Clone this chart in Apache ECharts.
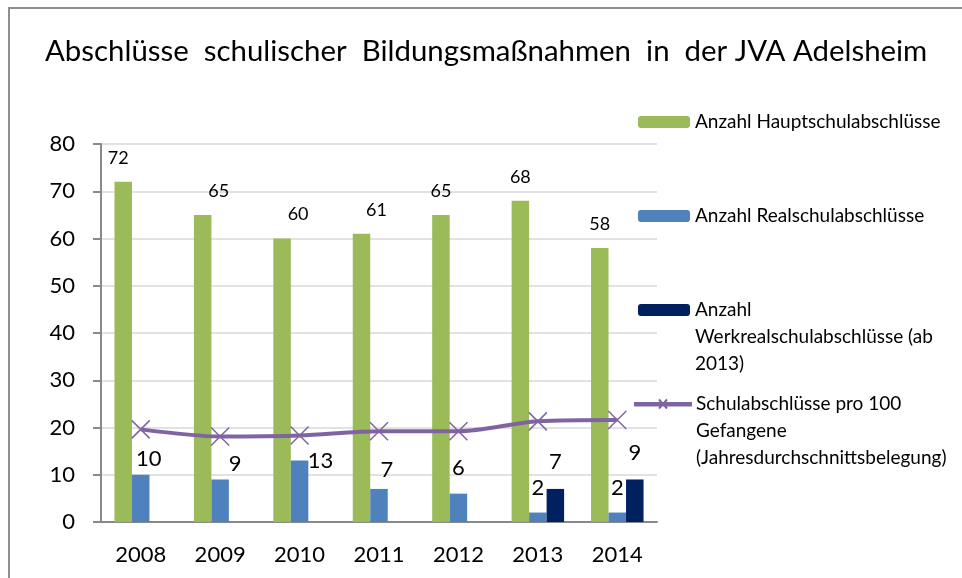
<!DOCTYPE html>
<html>
<head>
<meta charset="utf-8">
<script src="https://cdn.jsdelivr.net/npm/echarts@6/dist/echarts.min.js"></script>
<style>
  html, body { margin: 0; padding: 0; background: #fff; }
  #chart { width: 962px; height: 578px; }
</style>
</head>
<body>
<div id="chart"></div>
<script>
// Data
const years = ['2008', '2009', '2010', '2011', '2012', '2013', '2014'];
const hauptschule = [72, 65, 60, 61, 65, 68, 58];
const realschule = [10, 9, 13, 7, 6, 2, 2];
const werkrealschule = [null, null, null, null, null, 7, 9];
const proHundert = [19.6, 18.1, 18.3, 19.2, 19.2, 21.3, 21.6];

const seriesNames = [
  'Anzahl Hauptschulabschlüsse',
  'Anzahl Realschulabschlüsse',
  'Anzahl Werkrealschulabschlüsse (ab 2013)',
  'Schulabschlüsse pro 100 Gefangene (Jahresdurchschnittsbelegung)'
];
// legend text lines (wrapped as in the original)
const legendLines = {
  [seriesNames[0]]: ['Anzahl Hauptschulabschlüsse'],
  [seriesNames[1]]: ['Anzahl Realschulabschlüsse'],
  [seriesNames[2]]: ['Anzahl', 'Werkrealschulabschlüsse (ab', '2013)'],
  [seriesNames[3]]: ['Schulabschlüsse pro 100', 'Gefangene', '(Jahresdurchschnittsbelegung)']
};

// label nudges (as placed by hand in the original)
const hauptShift = [-5, 16, 16, 15, 0, 0, 0];
const realShift = [[8, 0], [15, 0], [21, 16], [8, -3], [0, -10], [0, -9], [0, -9]];

const FONT = 'Lato';
const chart = echarts.init(document.getElementById('chart'));

const lineH = 27;
// legend text is centred on its icon, so pad with blank lines on top
// to keep the first line level with the icon
function legendFor(name, iconY, left, w, h, icon) {
  const lines = legendLines[name];
  const pad = new Array(lines.length - 1).fill('');
  const lg = {
    data: [name],
    orient: 'vertical',
    left: left,
    top: iconY - (2 * lines.length - 1) * lineH / 2,
    padding: 0,
    itemWidth: w,
    itemHeight: h,
    selectedMode: false,
    formatter: n => pad.concat(legendLines[n]).join('\n'),
    textStyle: { fontFamily: FONT, fontSize: 19, color: '#000', lineHeight: lineH }
  };
  if (icon) lg.icon = icon;
  return lg;
}

// thick line with a small cross, like the series line and marker
const lineLegendIcon = 'path://M0,6h56v2.5h-56z M24,2.5L32,11.5M32,2.5L24,11.5';

const option = {
  animation: false,
  backgroundColor: '#fff',
  graphic: [{
    type: 'rect',
    shape: { x: 9, y: 8, width: 1000, height: 620 },
    style: { fill: 'none', stroke: '#8e8e8e', lineWidth: 2 },
    silent: true
  }],
  title: {
    text: 'Abschlüsse  schulischer  Bildungsmaßnahmen  in  der JVA Adelsheim',
    left: 40,
    top: 32,
    textStyle: { fontFamily: FONT, fontSize: 29.4, fontWeight: 'normal', color: '#000' }
  },
  legend: [
    legendFor(seriesNames[0], 122, 638, 52, 12),
    legendFor(seriesNames[1], 216, 638, 52, 12),
    legendFor(seriesNames[2], 310, 638, 52, 12),
    legendFor(seriesNames[3], 404, 634, 56, 14, lineLegendIcon)
  ],
  grid: { left: 101, right: 305, top: 144, bottom: 56 },
  xAxis: {
    type: 'category',
    data: years,
    axisLine: { lineStyle: { color: '#898989', width: 2 } },
    axisTick: { length: 8, lineStyle: { color: '#898989', width: 2 } },
    axisLabel: { fontFamily: FONT, fontSize: 22, color: '#000', margin: 22 }
  },
  yAxis: {
    type: 'value',
    min: 0,
    max: 80,
    interval: 10,
    axisLine: { show: true, lineStyle: { color: '#898989', width: 2 } },
    axisTick: { show: true, length: 8, lineStyle: { color: '#898989', width: 2 } },
    axisLabel: { fontFamily: FONT, fontSize: 22, color: '#000', margin: 26 },
    splitLine: { lineStyle: { color: '#d9d9d9', width: 1.5 } }
  },
  series: [
    {
      name: seriesNames[0],
      type: 'bar',
      barWidth: 17.5,
      barGap: '0%',
      itemStyle: { color: '#9bbb59' },
      data: hauptschule.map((v, i) => ({
        value: v,
        label: { offset: [hauptShift[i], 0] }
      })),
      label: {
        show: true, position: 'top', distance: 15,
        fontFamily: FONT, fontSize: 18, color: '#000'
      }
    },
    {
      name: seriesNames[1],
      type: 'bar',
      barWidth: 17.5,
      barGap: '0%',
      itemStyle: { color: '#4f81bd' },
      data: realschule.map((v, i) => ({
        value: v,
        label: { offset: realShift[i] }
      })),
      label: {
        show: true, position: 'top', distance: 5,
        fontFamily: FONT, fontSize: 22, color: '#000'
      }
    },
    {
      name: seriesNames[2],
      type: 'bar',
      barWidth: 17.5,
      barGap: '0%',
      itemStyle: { color: '#002060' },
      data: werkrealschule,
      label: {
        show: true, position: 'top', distance: 16,
        fontFamily: FONT, fontSize: 22, color: '#000'
      }
    },
    {
      name: seriesNames[3],
      type: 'line',
      smooth: 0.3,
      symbol: 'path://M0,0L10,10M10,0L0,10',
      symbolSize: 18,
      itemStyle: { color: '#8064a2', borderColor: '#8064a2', borderWidth: 1.5 },
      lineStyle: { color: '#8064a2', width: 4 },
      data: proHundert,
      z: 5
    }
  ]
};

chart.setOption(option);
</script>
</body>
</html>
